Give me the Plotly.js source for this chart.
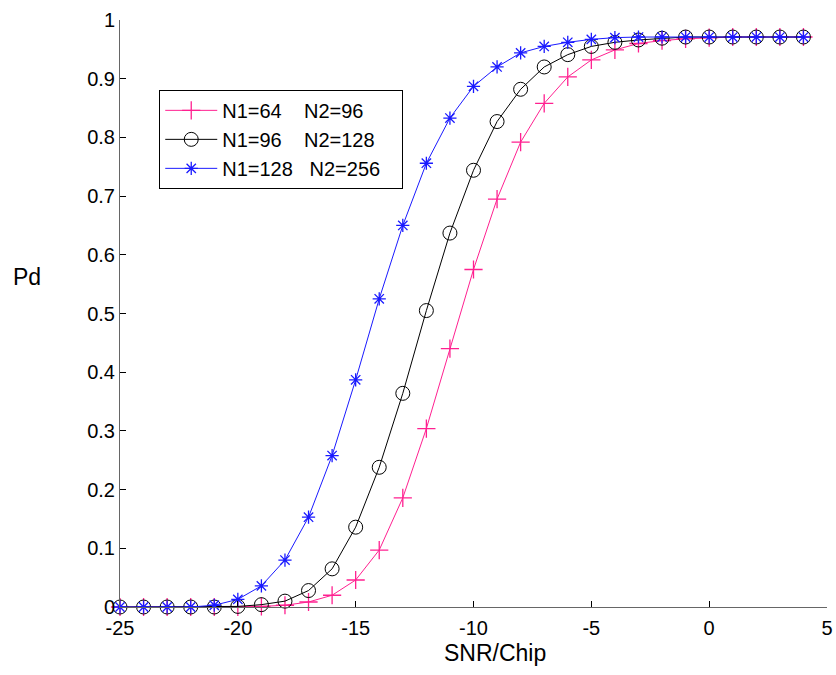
<!DOCTYPE html>
<html>
<head>
<meta charset="utf-8">
<script src="https://cdn.plot.ly/plotly-3.0.1.min.js"></script>
<style>html,body{margin:0;padding:0;background:#fff;}#chart{width:836px;height:675px;}</style>
</head>
<body>
<div id="chart"></div>
<script>
const snr = [-25,-24,-23,-22,-21,-20,-19,-18,-17,-16,-15,-14,-13,-12,-11,-10,-9,-8,-7,-6,-5,-4,-3,-2,-1,0,1,2,3,4];
const pdN64 = [0,0,0,0,0,0,0.001,0.003,0.0085,0.02,0.046,0.097,0.186,0.304,0.44,0.575,0.695,0.792,0.858,0.903,0.932,0.949,0.96,0.965,0.968,0.97,0.971,0.971,0.971,0.971];
const pdN96 = [0,0,0,0,0,0.001,0.004,0.01,0.028,0.065,0.136,0.238,0.364,0.505,0.637,0.744,0.827,0.882,0.92,0.941,0.955,0.962,0.966,0.969,0.971,0.971,0.971,0.971,0.971,0.971];
const pdN128 = [0,0,0,0,0.003,0.013,0.036,0.08,0.153,0.258,0.387,0.525,0.65,0.756,0.833,0.887,0.92,0.944,0.955,0.962,0.967,0.97,0.971,0.971,0.971,0.971,0.971,0.971,0.971,0.971];
const names = ['N1=64\u00a0\u00a0\u00a0\u00a0N2=96','N1=96\u00a0\u00a0\u00a0\u00a0N2=128','N1=128\u00a0\u00a0\u00a0N2=256\u00a0\u00a0\u00a0'];
const yTicks = [0,0.1,0.2,0.3,0.4,0.5,0.6,0.7,0.8,0.9,1];
const xTicks = [-25,-20,-15,-10,-5,0,5];

const font = 'Liberation Sans, Arial, sans-serif';
const traces = [
  {x: snr, y: pdN64, name: names[0], mode: 'lines+markers',
   line: {color: '#ff2090', width: 1},
   marker: {symbol: 'cross-thin', size: 13, color: '#ff2090', line: {color: '#ff2090', width: 1.3}},
   cliponaxis: false},
  {x: snr, y: pdN96, name: names[1], mode: 'lines+markers',
   line: {color: '#000000', width: 1},
   marker: {symbol: 'circle-open', size: 14, color: '#000000', line: {color: '#000000', width: 1}},
   cliponaxis: false},
  {x: snr, y: pdN128, name: names[2], mode: 'lines+markers',
   line: {color: '#1a1aff', width: 1},
   marker: {symbol: 'asterisk-open', size: 11, color: '#1a1aff', line: {color: '#1a1aff', width: 1.3}},
   cliponaxis: false}
];

const layout = {
  width: 836, height: 675,
  margin: {l: 120, r: 9, t: 20, b: 68, pad: 0},
  paper_bgcolor: '#ffffff', plot_bgcolor: '#ffffff',
  font: {family: font, size: 20, color: '#000'},
  showlegend: true,
  legend: {x: 0.0555, y: 0.881, xanchor: 'left', yanchor: 'top',
    bgcolor: '#ffffff', bordercolor: '#000000', borderwidth: 1,
    font: {family: font, size: 20, color: '#000'}, itemwidth: 52},
  xaxis: {range: [-25, 5], tickvals: xTicks, ticktext: xTicks.map(String),
    ticks: 'inside', ticklen: 6, tickcolor: '#000', tickwidth: 1,
    showline: true, linecolor: '#666', linewidth: 1, mirror: false,
    showgrid: false, zeroline: false, ticklabelstandoff: 3,
    tickfont: {family: font, size: 20, color: '#000'}},
  yaxis: {range: [0, 1], tickvals: yTicks, ticktext: yTicks.map(String),
    ticks: 'inside', ticklen: 6, tickcolor: '#000', tickwidth: 1,
    showline: true, linecolor: '#666', linewidth: 1, mirror: false,
    showgrid: false, zeroline: false, ticklabelstandoff: 0,
    tickfont: {family: font, size: 20, color: '#000'}},
  annotations: [
    {text: 'Pd', xref: 'paper', yref: 'paper', x: -0.131, y: 0.562,
     xanchor: 'center', yanchor: 'middle', showarrow: false,
     font: {family: font, size: 23, color: '#000'}},
    {text: 'SNR/Chip', xref: 'paper', yref: 'paper', x: 0.531, y: -0.078,
     xanchor: 'center', yanchor: 'middle', showarrow: false,
     font: {family: font, size: 23, color: '#000'}}
  ]
};

Plotly.newPlot('chart', traces, layout, {staticPlot: true, displayModeBar: false});
</script>
</body>
</html>
